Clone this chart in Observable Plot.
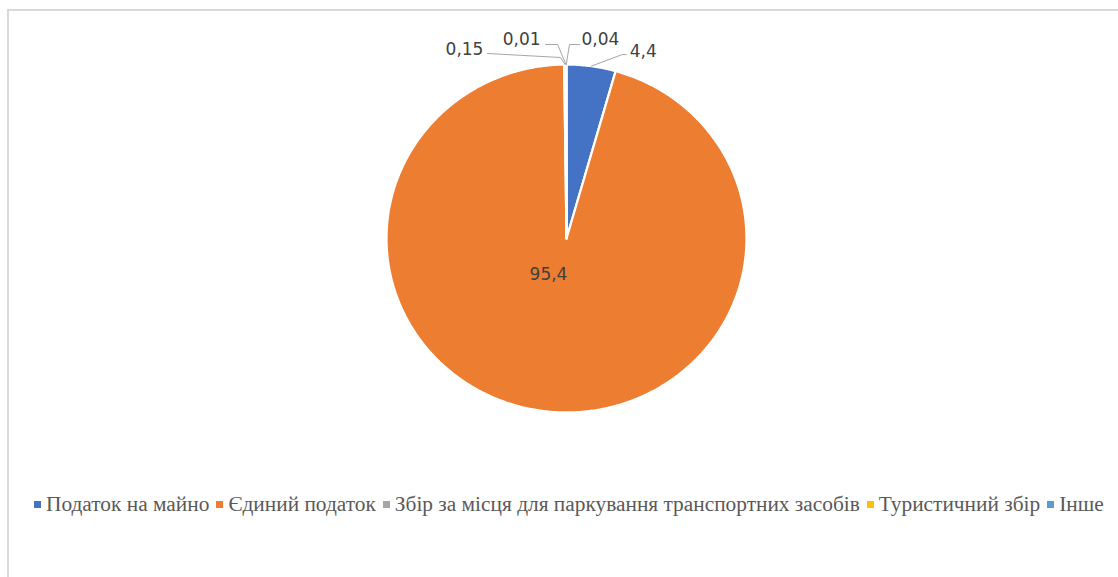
<!DOCTYPE html>
<html>
<head>
<meta charset="utf-8">
<script src="https://cdn.jsdelivr.net/npm/d3@7"></script>
<script src="https://cdn.jsdelivr.net/npm/@observablehq/plot@0.6"></script>
<style>
  html, body { margin: 0; padding: 0; background: #fff; width: 1118px; height: 577px; overflow: hidden; }
  #wrap { position: relative; width: 1118px; height: 577px; overflow: hidden; }
  #frame { position: absolute; left: 7px; top: 9px; width: 2000px; height: 2000px; border: 2px solid #d9d9d9; box-sizing: border-box; }
  #chart { position: absolute; left: 0; top: 0; }
  #legend { position: absolute; left: 34px; top: 492px; display: flex; align-items: center; white-space: nowrap; color: #595959;
    font-family: 'Times New Roman', serif; }
  .item { display: flex; align-items: center; margin-right: 7px; }
  .item:last-child { margin-right: 0; }
  .sw { width: 7px; height: 7px; margin-right: 5px; flex: none; }
</style>
</head>
<body>
<div id="wrap">
  <div id="frame"></div>
  <div id="chart"></div>
  <div id="legend"></div>
</div>
<script>
// ---- data ----
const categories = ["Податок на майно", "Єдиний податок", "Збір за місця для паркування транспортних засобів", "Туристичний збір", "Інше"];
const values = [4.4, 95.4, 0.15, 0.01, 0.04];
const valueLabels = ["4,4", "95,4", "0,15", "0,01", "0,04"];
const colors = ["#4472C4", "#ED7D31", "#A5A5A5", "#FFC000", "#5B9BD5"];

// ---- layout (pixel offsets of labels / leader lines from each slice's rim point) ----
const labelLayout = [
  {dx: 52, dy: -14.6, leader: [[0, 0], [31, -11.6], [35, -11.6]]},
  {dx: -18, dy: 36, fromCenter: true, leader: null},
  {dx: -100.6, dy: -15, leader: [[0, 0], [-4.6, -7], [-77.6, -11]]},
  {dx: -44.4, dy: -25, leader: [[0, 0], [-8.4, -20], [-20.4, -20]]},
  {dx: 34.2, dy: -25, leader: [[0, 0], [3.2, -20], [13.2, -20]]}
];

const W = 1118, H = 470;
const xRange = [386, 746], yRange = [412, 64];
const kx = 2 / (xRange[1] - xRange[0]);
const ky = 2 / (yRange[0] - yRange[1]);

const total = d3.sum(values);
let cum = 0;
const slices = categories.map((c, i) => {
  const a0 = cum / total * 2 * Math.PI;
  cum += values[i];
  const a1 = cum / total * 2 * Math.PI;
  return {key: c, value: values[i], label: valueLabels[i], color: colors[i], a0, a1, am: (a0 + a1) / 2};
});

// polygon points for each slice
const slicePts = [];
for (const s of slices) {
  const n = Math.max(2, Math.ceil((s.a1 - s.a0) / (Math.PI / 360)));
  slicePts.push({key: s.key, x: 0, y: 0});
  for (let j = 0; j <= n; j++) {
    const a = s.a0 + (s.a1 - s.a0) * j / n;
    slicePts.push({key: s.key, x: Math.sin(a), y: Math.cos(a)});
  }
  slicePts.push({key: s.key, x: 0, y: 0});
}

const labelPts = [];
const leaderPts = [];
slices.forEach((s, i) => {
  const L = labelLayout[i];
  const rx = L.fromCenter ? 0 : Math.sin(s.am);
  const ry = L.fromCenter ? 0 : Math.cos(s.am);
  labelPts.push({label: s.label, x: rx + L.dx * kx, y: ry - L.dy * ky});
  if (L.leader) for (const [px, py] of L.leader) leaderPts.push({key: s.key, x: rx + px * kx, y: ry - py * ky});
});

const plot = Plot.plot({
  width: W, height: H,
  margin: 0,
  x: {domain: [-1, 1], range: xRange, axis: null},
  y: {domain: [-1, 1], range: yRange, axis: null},
  color: {domain: categories, range: colors},
  style: {background: "transparent", overflow: "visible"},
  marks: [
    Plot.line(slicePts, {x: "x", y: "y", z: "key", fill: "key", stroke: "#fff", strokeWidth: 2.25, strokeLinejoin: "round"}),
    Plot.line(leaderPts, {x: "x", y: "y", z: "key", stroke: "#A6A6A6", strokeWidth: 1}),
    Plot.text(labelPts, {x: "x", y: "y", text: "label", fill: "#404040", fontSize: 17, fontFamily: "DejaVu Sans", textAnchor: "middle"})
  ]
});
document.getElementById("chart").appendChild(plot);

// legend
const lg = document.getElementById("legend");
let fontPx = 21;
lg.style.fontSize = fontPx + "px";
categories.forEach((c, i) => {
  const it = document.createElement("div");
  it.className = "item";
  const sw = document.createElement("span");
  sw.className = "sw";
  sw.style.background = colors[i];
  const tx = document.createElement("span");
  tx.textContent = c;
  it.appendChild(sw); it.appendChild(tx);
  lg.appendChild(it);
});
// fit legend to the reference span (34px .. 1105px)
const target = 1071;
const wNow = lg.getBoundingClientRect().width;
if (wNow > 0) {
  fontPx = Math.max(16, Math.min(24, fontPx * target / wNow));
  lg.style.fontSize = fontPx.toFixed(2) + "px";
}
</script>
</body>
</html>
